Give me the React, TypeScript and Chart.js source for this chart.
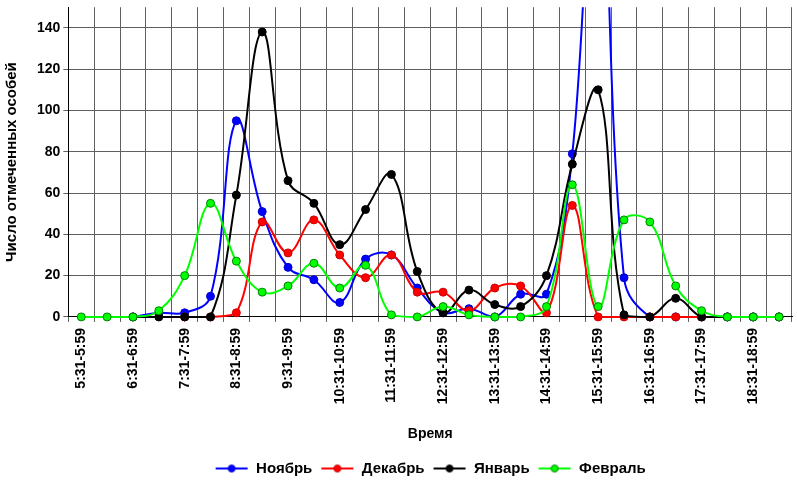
import { useEffect, useRef } from 'react';
import Chart from 'chart.js/auto';

// half-hour intervals, only the ":31" ones get a tick label
const categories = [
  '5:31-5:59', '6:00-6:30', '6:31-6:59', '7:00-7:30', '7:31-7:59', '8:00-8:30',
  '8:31-8:59', '9:00-9:30', '9:31-9:59', '10:00-10:30', '10:31-10:59', '11:00-11:30',
  '11:31-11:59', '12:00-12:30', '12:31-12:59', '13:00-13:30', '13:31-13:59', '14:00-14:30',
  '14:31-14:59', '15:00-15:30', '15:31-15:59', '16:00-16:30', '16:31-16:59', '17:00-17:30',
  '17:31-17:59', '18:00-18:30', '18:31-18:59', '19:00-19:30',
];

const november = [null, null, 0, 2, 2, 10, 95, 51, 24, 18, 7, 28, 30, 14, 2, 4, 0, 11, 11, 79, 250, 19, 0, 0, 0, 0, 0, 0];
const december = [null, null, null, null, 0, 0, 2, 46, 31, 47, 30, 19, 30, 12, 12, 3, 14, 15, 2, 54, 0, 0, 0, 0, 0, null, null, null];
const january = [null, null, 0, 0, 0, 0, 59, 138, 66, 55, 35, 52, 69, 22, 2, 13, 6, 5, 20, 74, 110, 1, 0, 9, 0, 0, 0, 0];
const february = [0, 0, 0, 3, 20, 55, 27, 12, 15, 26, 14, 25, 1, 0, 5, 1, 0, 0, 5, 64, 5, 47, 46, 15, 3, 0, 0, 0];

const yTicks = [0, 20, 40, 60, 80, 100, 120, 140];

const FONT = "'Liberation Sans', Arial, sans-serif";

function legendMarker(line: string, fill: string, border: string) {
  const c = document.createElement('canvas');
  c.width = 34;
  c.height = 12;
  const g = c.getContext('2d');
  if (g) {
    g.strokeStyle = line;
    g.lineWidth = 2;
    g.beginPath();
    g.moveTo(1, 6);
    g.lineTo(33, 6);
    g.stroke();
    g.fillStyle = fill;
    g.strokeStyle = border;
    g.lineWidth = 1;
    g.beginPath();
    g.arc(17, 6, 3.5, 0, Math.PI * 2);
    g.fill();
    g.stroke();
  }
  return c;
}

// legend sits under the plot area in the original, not under the whole canvas
const shiftLegend = {
  id: 'shiftLegend',
  afterLayout(chart: any) {
    const lg = chart.legend;
    if (!lg) return;
    const dx = (chart.chartArea.left + chart.chartArea.right) / 2 - (lg.left + lg.right) / 2;
    lg.left += dx;
    lg.right += dx;
  },
};

export default function App() {
  const canvasRef = useRef<HTMLCanvasElement>(null);
  const chartRef = useRef<Chart | null>(null);

  useEffect(() => {
    if (!canvasRef.current) return;
    if (chartRef.current) chartRef.current.destroy();

    const series = [
      { label: 'Ноябрь', data: november, line: '#0000ff', fill: '#0000ff', border: '#0000cc', order: 4 },
      { label: 'Декабрь', data: december, line: '#ff0000', fill: '#ff0000', border: '#cc0000', order: 3 },
      { label: 'Январь', data: january, line: '#000000', fill: '#000000', border: '#000000', order: 2 },
      { label: 'Февраль', data: february, line: '#00ff00', fill: '#00ff00', border: '#008000', order: 1 },
    ];

    chartRef.current = new Chart(canvasRef.current, {
      type: 'line',
      data: {
        labels: categories,
        datasets: series.map((s) => ({
          label: s.label,
          data: s.data,
          borderColor: s.line,
          backgroundColor: s.fill,
          borderWidth: 2,
          pointStyle: 'circle',
          pointRadius: 4,
          pointBackgroundColor: s.fill,
          pointBorderColor: s.border,
          pointBorderWidth: 1,
          tension: 0.4,
          order: s.order,
          clip: { left: 5, right: 5, top: 0, bottom: 10 },
        })),
      },
      plugins: [shiftLegend],
      options: {
        animation: false,
        responsive: true,
        maintainAspectRatio: false,
        layout: { padding: { left: 0, right: 0, top: 0, bottom: 2 } },
        plugins: {
          tooltip: { enabled: false },
          legend: {
            position: 'bottom',
            labels: {
              color: '#000',
              font: { family: FONT, size: 15, weight: 'bold' },
              usePointStyle: true,
              pointStyleWidth: 34,
              padding: 8,
              generateLabels: () =>
                series.map((s, i) => ({
                  text: s.label,
                  datasetIndex: i,
                  fillStyle: s.fill,
                  strokeStyle: s.line,
                  lineWidth: 0,
                  hidden: false,
                  fontColor: '#000',
                  pointStyle: legendMarker(s.line, s.fill, s.border),
                })),
            },
          },
        },
        scales: {
          x: {
            type: 'category',
            offset: true,
            grid: { offset: true, color: '#606060', tickLength: 5 },
            border: { color: '#000', width: 1 },
            ticks: {
              autoSkip: false,
              maxRotation: 90,
              minRotation: 90,
              padding: 6,
              color: '#000',
              font: { family: FONT, size: 14, weight: 'bold', lineHeight: 0.6 },
              callback: (_v, i) => (i % 2 === 0 ? categories[i] : ''),
            },
            title: {
              display: true,
              text: 'Время',
              color: '#000',
              font: { family: FONT, size: 14, weight: 'bold' },
              padding: { top: 16, bottom: 10 },
            },
          },
          y: {
            min: 0,
            max: 150,
            afterBuildTicks: (axis) => {
              axis.ticks = yTicks.map((v) => ({ value: v }));
            },
            grid: { color: '#606060', tickLength: 5 },
            border: { color: '#000', width: 1 },
            ticks: {
              padding: 3,
              color: '#000',
              font: { family: FONT, size: 14, weight: 'bold', lineHeight: 0.6 },
            },
            title: {
              display: true,
              text: 'Число отмеченных особей',
              color: '#000',
              font: { family: FONT, size: 15, weight: 'bold' },
              padding: { top: 3, bottom: 13 },
            },
          },
        },
      },
    });

    return () => {
      if (chartRef.current) {
        chartRef.current.destroy();
        chartRef.current = null;
      }
    };
  }, []);

  return (
    <div style={{ position: 'absolute', left: 0, top: 0, width: 797, height: 488, background: '#fff' }}>
      <canvas ref={canvasRef}></canvas>
    </div>
  );
}
